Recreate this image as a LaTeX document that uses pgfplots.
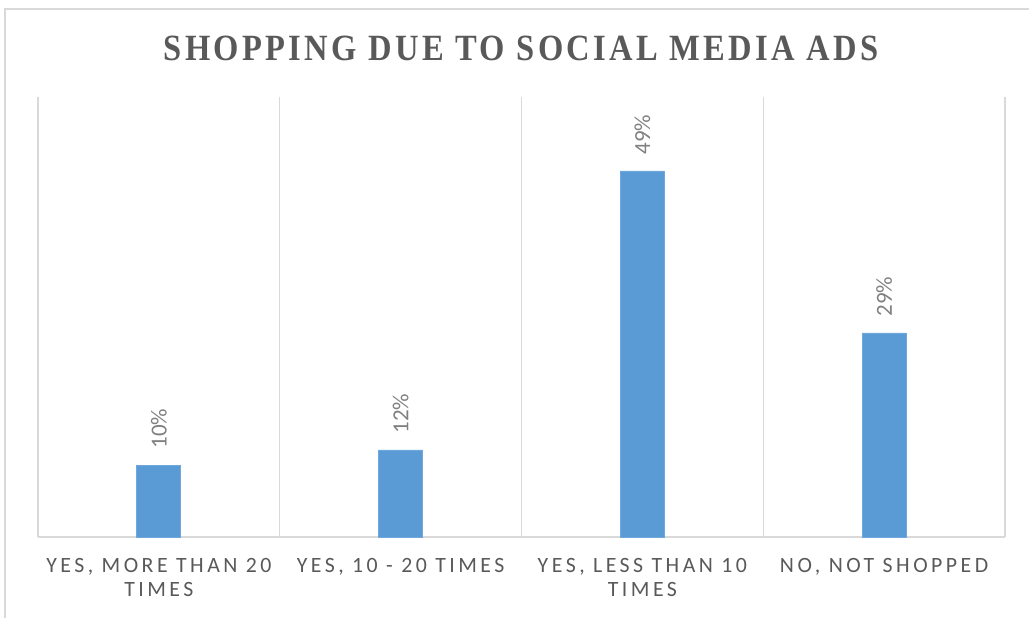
\documentclass[border=0pt]{standalone}
\usepackage{pgfplots}
\pgfplotsset{compat=1.18}
\usepackage{pgfplotstable}
\usepackage{fontspec}
\setmainfont{Carlito}
\newfontfamily\labfont[LetterSpace=16]{Carlito}
\newfontfamily\titlefont[LetterSpace=9, FakeStretch=0.88]{Liberation Serif}
\definecolor{barblue}{HTML}{5B9BD5}
\definecolor{baredge}{HTML}{6FA8DC}
\definecolor{gridgray}{HTML}{D9D9D9}
\definecolor{txtgray}{HTML}{595959}
\definecolor{lblgray}{HTML}{808080}
\pgfplotstableread{
x y lab
0 9.86 10
1 11.92 12
2 50.14 49
3 27.95 29
}\datatable
\begin{document}
\begin{tikzpicture}
\useasboundingbox (0,0) rectangle (514.5pt,-308.5pt);
\draw[gridgray, line width=0.75pt] (2.5pt,-309pt) -- (2.5pt,-4.5pt) -- (515pt,-4.5pt);
\node[anchor=base, font=\titlefont\bfseries\fontsize{18.5}{20}\selectfont, text=txtgray] at (260.5pt,-30pt) {SHOPPING DUE TO SOCIAL MEDIA ADS};
\begin{axis}[
  at={(19pt,-268.5pt)}, anchor=south west,
  scale only axis, width=483.5pt, height=220pt,
  xmin=-0.5, xmax=3.5, ymin=0, ymax=60.27,
  ybar, bar width=22pt,
  axis x line*=bottom, axis y line=none,
  x axis line style={gridgray, line width=1pt},
  ytick=\empty,
  xtick={0,1,2,3},
  xticklabels={{YES, MORE THAN 20\\TIMES},{YES, 10 - 20 TIMES},{YES, LESS THAN 10\\TIMES},{NO, NOT SHOPPED}},
  xticklabel style={align=center, text=txtgray, font=\labfont\fontsize{10.9}{12}\selectfont, yshift=-7pt},
  major tick length=0pt, minor tick length=0pt,
  minor xtick={-0.5,0.5,1.5,2.5,3.5},
  xminorgrids=true,
  minor grid style={gridgray, line width=0.75pt},
  clip=false,
  point meta=explicit symbolic,
  nodes near coords={\pgfplotspointmeta\%},
  every node near coord/.append style={rotate=90, anchor=west, inner xsep=8pt, inner ysep=0pt, text=lblgray, font=\fontsize{11.5}{13}\selectfont},
]
\addplot[fill=barblue, draw=baredge, line width=0.4pt] table[x=x, y=y, meta=lab] {\datatable};
\end{axis}
\end{tikzpicture}
\end{document}
